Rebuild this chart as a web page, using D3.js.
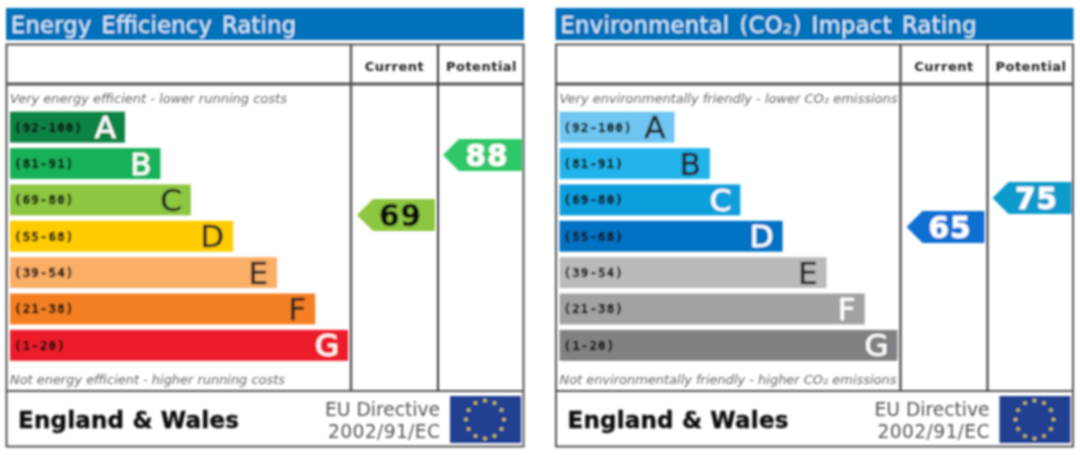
<!DOCTYPE html>
<html>
<head>
<meta charset="utf-8">
<style>
  html, body { margin: 0; padding: 0; background: #fff; }
  svg { display: block; }
  text { font-family: "DejaVu Sans", sans-serif; }
  text.range { font-family: "DejaVu Sans Mono", monospace; }
</style>
<script src="https://cdn.jsdelivr.net/npm/d3@7"></script>
</head>
<body>
<svg id="chart" width="1080" height="455"></svg>
<script>
'use strict';

var bands = ['A', 'B', 'C', 'D', 'E', 'F', 'G'];
var ranges = ['(92-100)', '(81-91)', '(69-80)', '(55-68)', '(39-54)', '(21-38)', '(1-20)'];
// length of each band as a share of the rating column
var bandLengths = [34, 44.5, 53.5, 66, 79, 90.3, 100];

var energyColors = ['#0b8244', '#19b159', '#8dc63f', '#ffcc00', '#fbae66', '#f47f20', '#ed1b2a'];
var energyLetters = ['#fff', '#fff', '#222', '#222', '#222', '#222', '#fff'];
var co2Colors = ['#6ec6f1', '#22b3ea', '#0a9edc', '#0672c3', '#b9babc', '#a1a2a4', '#808184'];
var co2Letters = ['#222', '#222', '#fff', '#fff', '#222', '#fff', '#fff'];

var energyRatings = [69, 88];
var co2Ratings = [65, 75];
var energyArrows = ['#8dc63f', '#2fc869'];
var co2Arrows = ['#0a6fd2', '#109bcc'];
var energyNumbers = ['#111', '#fff'];
var co2Numbers = ['#fff', '#fff'];
var columns = ['Current', 'Potential'];

var svg = d3.select('#chart');
var defs = svg.append('defs');
defs.append('filter').attr('id', 'soft')
  .attr('x', '-2%').attr('y', '-2%').attr('width', '104%').attr('height', '104%')
  .append('feGaussianBlur').attr('stdDeviation', 0.8);

var y = d3.scaleBand().domain(bands).range([111, 361.5]).paddingInner(0.15).paddingOuter(0.02);
var x = d3.scaleLinear().domain([0, 100]).range([10, 348]);
var ratingY = d3.scaleLinear().domain([88, 75, 69, 65]).range([155, 198, 215, 227]);

function drawPanel(left, opts) {
  var g = svg.append('g')
    .attr('transform', `translate(${left},0)`)
    .attr('filter', 'url(#soft)');

  g.append('rect').attr('x', 6).attr('y', 8).attr('width', 518).attr('height', 32)
    .attr('fill', '#0072bc');
  g.append('text').attr('x', 11).attr('y', 32.5)
    .attr('font-size', 22.5).attr('fill', '#d9eefa').attr('word-spacing', 2.5)
    .attr('textLength', opts.titleLength).attr('lengthAdjust', 'spacing')
    .text(opts.title);

  // bars
  var row = g.selectAll('g.band').data(bands).enter().append('g').attr('class', 'band');
  row.append('rect')
    .attr('x', x(0))
    .attr('y', d => y(d))
    .attr('width', (d, i) => x(bandLengths[i]) - x(0))
    .attr('height', y.bandwidth())
    .attr('fill', (d, i) => opts.colors[i]);
  row.append('text')
    .attr('class', 'range')
    .attr('x', 14)
    .attr('y', d => y(d) + y.bandwidth() / 2 + 4.5)
    .attr('font-weight', 'bold').attr('font-size', 12.5).attr('letter-spacing', 1.1)
    .attr('fill', '#111').attr('stroke', '#111').attr('stroke-width', 0.5)
    .text((d, i) => ranges[i]);
  row.append('text')
    .attr('x', (d, i) => x(bandLengths[i]) - 9)
    .attr('y', d => y(d) + y.bandwidth() / 2 + 11)
    .attr('text-anchor', 'end')
    .attr('font-size', 31)
    .attr('fill', (d, i) => opts.letters[i])
    .attr('stroke', (d, i) => opts.letters[i]).attr('stroke-width', 0.5)
    .text(d => d);

  g.append('text').attr('x', 10).attr('y', 103)
    .attr('font-size', 12).attr('font-style', 'italic').attr('fill', '#666')
    .attr('textLength', opts.topLength).attr('lengthAdjust', 'spacingAndGlyphs')
    .text(opts.top);
  g.append('text').attr('x', 10).attr('y', 384)
    .attr('font-size', 12).attr('font-style', 'italic').attr('fill', '#666')
    .attr('textLength', opts.bottomLength).attr('lengthAdjust', 'spacingAndGlyphs')
    .text(opts.bottom);

  // arrows
  var colX = [[357, 435], [443, 522]];
  var arrow = g.selectAll('g.arrow').data(opts.ratings).enter().append('g').attr('class', 'arrow');
  arrow.append('path')
    .attr('d', (d, i) => {
      var c = ratingY(d);
      return d3.line()([
        [colX[i][0], c], [colX[i][0] + 16, c - 16], [colX[i][1], c - 16],
        [colX[i][1], c + 16], [colX[i][0] + 16, c + 16]
      ]) + 'Z';
    })
    .attr('fill', (d, i) => opts.arrows[i]);
  arrow.append('text')
    .attr('x', (d, i) => (colX[i][0] + colX[i][1]) / 2 + 4.5)
    .attr('y', d => ratingY(d) + 10.5)
    .attr('text-anchor', 'middle')
    .attr('font-weight', 'bold').attr('font-size', 29.5).attr('letter-spacing', 1)
    .attr('fill', (d, i) => opts.numbers[i])
    .attr('stroke', (d, i) => opts.numbers[i]).attr('stroke-width', 0.5)
    .text(d => d);

  // frame and grid
  var line = '#555';
  g.append('rect').attr('x', 6.5).attr('y', 44.5).attr('width', 517).attr('height', 402)
    .attr('fill', 'none').attr('stroke', line).attr('stroke-width', 2);
  g.append('line').attr('x1', 6).attr('x2', 524).attr('y1', 84).attr('y2', 84)
    .attr('stroke', line).attr('stroke-width', 3);
  g.append('line').attr('x1', 6).attr('x2', 524).attr('y1', 391).attr('y2', 391)
    .attr('stroke', line).attr('stroke-width', 2);
  g.append('line').attr('x1', 351).attr('x2', 351).attr('y1', 44).attr('y2', 391)
    .attr('stroke', line).attr('stroke-width', 2.5);
  g.append('line').attr('x1', 438).attr('x2', 438).attr('y1', 44).attr('y2', 391)
    .attr('stroke', '#333').attr('stroke-width', 2);

  g.selectAll('text.col').data(columns).enter().append('text')
    .attr('class', 'col')
    .attr('x', (d, i) => [394.5, 481.5][i])
    .attr('y', 71)
    .attr('text-anchor', 'middle')
    .attr('font-weight', 'bold').attr('font-size', 13).attr('letter-spacing', 0.5).attr('fill', '#222')
    .text(d => d);

  // footer
  g.append('text').attr('x', 18).attr('y', 428)
    .attr('font-weight', 'bold').attr('font-size', 23).attr('letter-spacing', 0.2)
    .attr('fill', '#111').attr('stroke', '#111').attr('stroke-width', 0.4)
    .text('England & Wales');
  g.append('text').attr('x', 325).attr('y', 416)
    .attr('font-size', 18.7).attr('fill', '#555')
    .attr('textLength', 115).text('EU Directive');
  g.append('text').attr('x', 328).attr('y', 438)
    .attr('font-size', 18.7).attr('fill', '#555')
    .attr('textLength', 112).text('2002/91/EC');

  g.append('rect').attr('x', 450).attr('y', 396).attr('width', 71).attr('height', 47)
    .attr('fill', '#243f92');
  var stars = d3.range(12);
  g.selectAll('circle.star').data(stars).enter().append('circle')
    .attr('class', 'star')
    .attr('cx', d => 485 + 19 * Math.sin(d * Math.PI / 6))
    .attr('cy', d => 419.5 - 19 * Math.cos(d * Math.PI / 6))
    .attr('r', 1.8)
    .attr('fill', '#d6c83e');
}

drawPanel(0, {
  title: 'Energy Efficiency Rating',
  titleLength: 285,
  top: 'Very energy efficient - lower running costs',
  bottom: 'Not energy efficient - higher running costs',
  topLength: 277, bottomLength: 275,
  colors: energyColors, letters: energyLetters,
  ratings: energyRatings, arrows: energyArrows, numbers: energyNumbers
});

drawPanel(549.5, {
  title: 'Environmental (CO\u2082) Impact Rating',
  titleLength: 416,
  top: 'Very environmentally friendly - lower CO\u2082 emissions',
  bottom: 'Not environmentally friendly - higher CO\u2082 emissions',
  topLength: 338, bottomLength: 337,
  colors: co2Colors, letters: co2Letters,
  ratings: co2Ratings, arrows: co2Arrows, numbers: co2Numbers
});
</script>
</body>
</html>
